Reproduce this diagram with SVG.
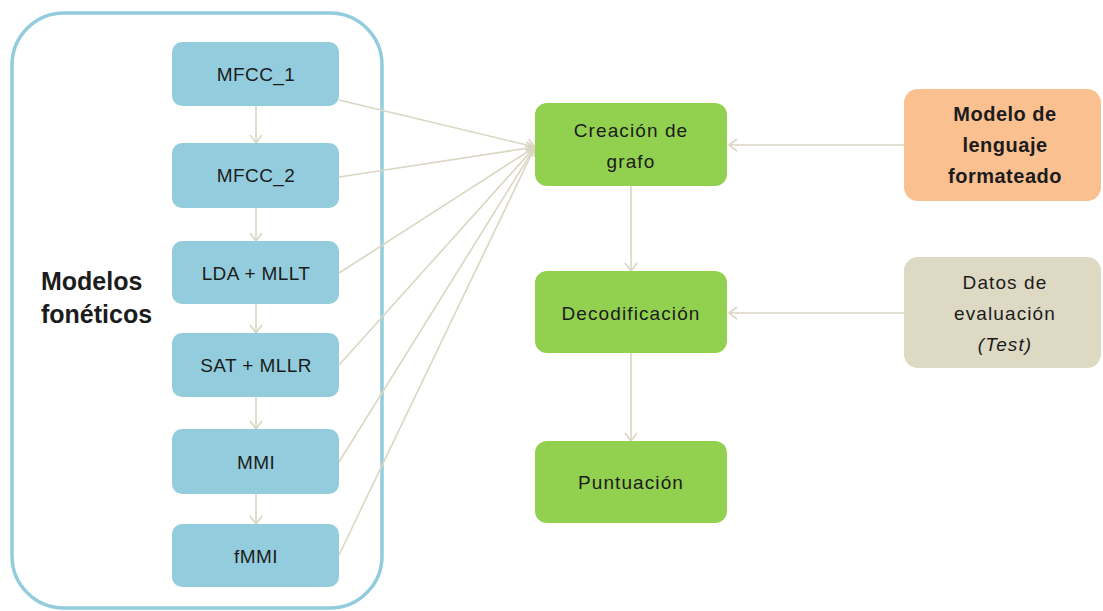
<svg xmlns="http://www.w3.org/2000/svg" width="1103" height="611" viewBox="0 0 1103 611">
  <style>
    .lbl { font-family: "Liberation Sans", Arial, sans-serif; font-size: 19px; fill: #1c1c1c; text-anchor: middle; dominant-baseline: central; }
    .wide { letter-spacing: 1.1px; }
    .bold { font-weight: bold; }
    .ital { font-style: italic; }
    .title { font-family: "Liberation Sans", Arial, sans-serif; font-size: 25px; font-weight: bold; fill: #1c1c1c; }
    .blue { fill: #93CDDD; }
    .green { fill: #92D050; }
    .orange { fill: #FAC090; }
    .beige { fill: #DDD9C3; }
    .conn { stroke: #DBD6C2; stroke-width: 1.6; fill: none; marker-end: url(#open); }
  </style>
  <defs>
    <marker id="open" viewBox="0 0 10 14" refX="9" refY="7" markerWidth="10" markerHeight="14" markerUnits="userSpaceOnUse" orient="auto">
      <path d="M1,1 L9,7 L1,13" fill="none" stroke="#DBD6C2" stroke-width="1.6"/>
    </marker>
  </defs>

  <rect width="1103" height="611" fill="#ffffff"/>

  <!-- phonetic model group -->
  <g id="modelos-foneticos">
    <rect x="12" y="13" width="370" height="595" rx="52" ry="52" fill="none" stroke="#93CDDD" stroke-width="3.5"/>
    <text class="title" x="41" y="290">Modelos</text>
    <text class="title" x="41" y="323">fonéticos</text>
  </g>

  <!-- connectors -->
  <g id="connectors">
    <line class="conn" x1="256" y1="106" x2="256" y2="143"/>
    <line class="conn" x1="256" y1="208" x2="256" y2="241"/>
    <line class="conn" x1="256" y1="304" x2="256" y2="333"/>
    <line class="conn" x1="256" y1="397" x2="256" y2="429"/>
    <line class="conn" x1="256" y1="494" x2="256" y2="524"/>

    <line class="conn" x1="339" y1="100" x2="535" y2="147"/>
    <line class="conn" x1="339" y1="177" x2="535" y2="147"/>
    <line class="conn" x1="339" y1="273" x2="535" y2="147"/>
    <line class="conn" x1="339" y1="365" x2="535" y2="147"/>
    <line class="conn" x1="339" y1="462" x2="535" y2="147"/>
    <line class="conn" x1="339" y1="555" x2="535" y2="147"/>

    <line class="conn" x1="631" y1="186" x2="631" y2="271"/>
    <line class="conn" x1="631" y1="353" x2="631" y2="441"/>

    <line class="conn" x1="904" y1="145" x2="729" y2="145"/>
    <line class="conn" x1="904" y1="313" x2="729" y2="313"/>
  </g>

  <g id="mfcc1">
    <rect class="blue" x="172" y="42" width="167" height="64" rx="10"/>
    <text class="lbl" x="256" y="74" style="letter-spacing:0.4px">MFCC_1</text>
  </g>
  <g id="mfcc2">
    <rect class="blue" x="172" y="143" width="167" height="65" rx="10"/>
    <text class="lbl" x="256" y="175" style="letter-spacing:0.4px">MFCC_2</text>
  </g>
  <g id="lda-mllt">
    <rect class="blue" x="172" y="241" width="167" height="63" rx="10"/>
    <text class="lbl" x="256" y="273" style="letter-spacing:0.4px">LDA + MLLT</text>
  </g>
  <g id="sat-mllr">
    <rect class="blue" x="172" y="333" width="167" height="64" rx="10"/>
    <text class="lbl" x="256" y="365" style="letter-spacing:0.4px">SAT + MLLR</text>
  </g>
  <g id="mmi">
    <rect class="blue" x="172" y="429" width="167" height="65" rx="10"/>
    <text class="lbl" x="256" y="462" style="letter-spacing:0.4px">MMI</text>
  </g>
  <g id="fmmi">
    <rect class="blue" x="172" y="524" width="167" height="63" rx="10"/>
    <text class="lbl" x="256" y="556" style="letter-spacing:0.4px">fMMI</text>
  </g>

  <g id="creacion-grafo">
    <rect class="green" x="535" y="103" width="192" height="83" rx="12"/>
    <text class="lbl wide" x="631" y="130">Creación de</text>
    <text class="lbl wide" x="631" y="161">grafo</text>
  </g>
  <g id="decodificacion">
    <rect class="green" x="535" y="271" width="192" height="82" rx="12"/>
    <text class="lbl wide" x="631" y="313">Decodificación</text>
  </g>
  <g id="puntuacion">
    <rect class="green" x="535" y="441" width="192" height="82" rx="12"/>
    <text class="lbl wide" x="631" y="482">Puntuación</text>
  </g>

  <g id="modelo-lenguaje">
    <rect class="orange" x="904" y="89" width="197" height="112" rx="14"/>
    <text class="lbl bold" x="1005" y="114" style="font-size:20px;letter-spacing:0.5px">Modelo de</text>
    <text class="lbl bold" x="1005" y="145" style="font-size:20px;letter-spacing:0.5px">lenguaje</text>
    <text class="lbl bold" x="1005" y="176" style="font-size:20px;letter-spacing:0.5px">formateado</text>
  </g>
  <g id="datos-evaluacion">
    <rect class="beige" x="904" y="257" width="197" height="111" rx="14"/>
    <text class="lbl wide" x="1005" y="282">Datos de</text>
    <text class="lbl wide" x="1005" y="313">evaluación</text>
    <text class="lbl ital wide" x="1005" y="344">(Test)</text>
  </g>
</svg>
